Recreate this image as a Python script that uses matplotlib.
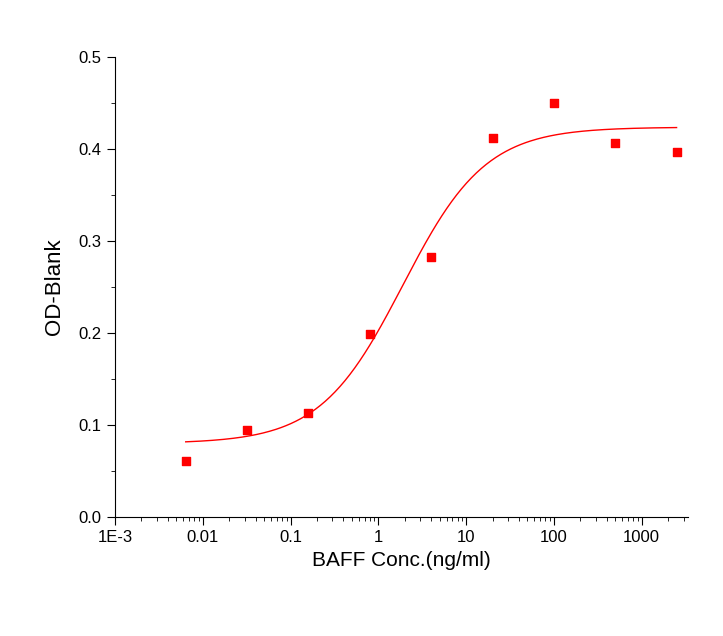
import numpy as np
import matplotlib
matplotlib.use("Agg")
import matplotlib.pyplot as plt
from matplotlib.ticker import FixedLocator, FixedFormatter, LogLocator, MultipleLocator

plt.rcParams["font.family"] = "Liberation Sans"

# measured points
conc = [0.0064, 0.032, 0.16, 0.8, 4, 20, 100, 500, 2500]
od = [0.061, 0.095, 0.113, 0.199, 0.283, 0.412, 0.450, 0.407, 0.397]

# 4PL fit parameters
bottom, top, ec50, hill = 0.080, 0.424, 1.9, 0.92

xticks = [1e-3, 1e-2, 1e-1, 1, 10, 100, 1000]
xlabels = ["1E-3", "0.01", "0.1", "1", "10", "100", "1000"]

fig = plt.figure(figsize=(7.23, 6.36), dpi=100)
ax = fig.add_axes([0.159, 0.187, 0.793, 0.723])

xf = np.logspace(np.log10(conc[0]), np.log10(conc[-1]), 300)
yf = bottom + (top - bottom) / (1 + (ec50 / xf) ** hill)
ax.plot(xf, yf, color="red", lw=1)
ax.scatter(conc, od, marker="s", s=26, color="red", zorder=3)

ax.set_xscale("log")
ax.set_xlim(1e-3, 3400)
ax.set_ylim(0, 0.5)
ax.xaxis.set_major_locator(FixedLocator(xticks))
ax.xaxis.set_major_formatter(FixedFormatter(xlabels))
ax.xaxis.set_minor_locator(LogLocator(subs=np.arange(2, 10), numticks=20))
ax.yaxis.set_major_locator(MultipleLocator(0.1))
ax.yaxis.set_minor_locator(MultipleLocator(0.05))
ax.yaxis.set_major_formatter(matplotlib.ticker.FormatStrFormatter("%.1f"))
ax.tick_params(which="major", direction="out", length=6, labelsize=12)
ax.tick_params(which="minor", direction="out", length=3)
for s in ["top", "right"]:
    ax.spines[s].set_visible(False)

ax.set_xlabel("BAFF Conc.(ng/ml)", fontsize=15)
ax.set_ylabel("OD-Blank", fontsize=16, labelpad=10)

fig.savefig("out.png", dpi=100)
